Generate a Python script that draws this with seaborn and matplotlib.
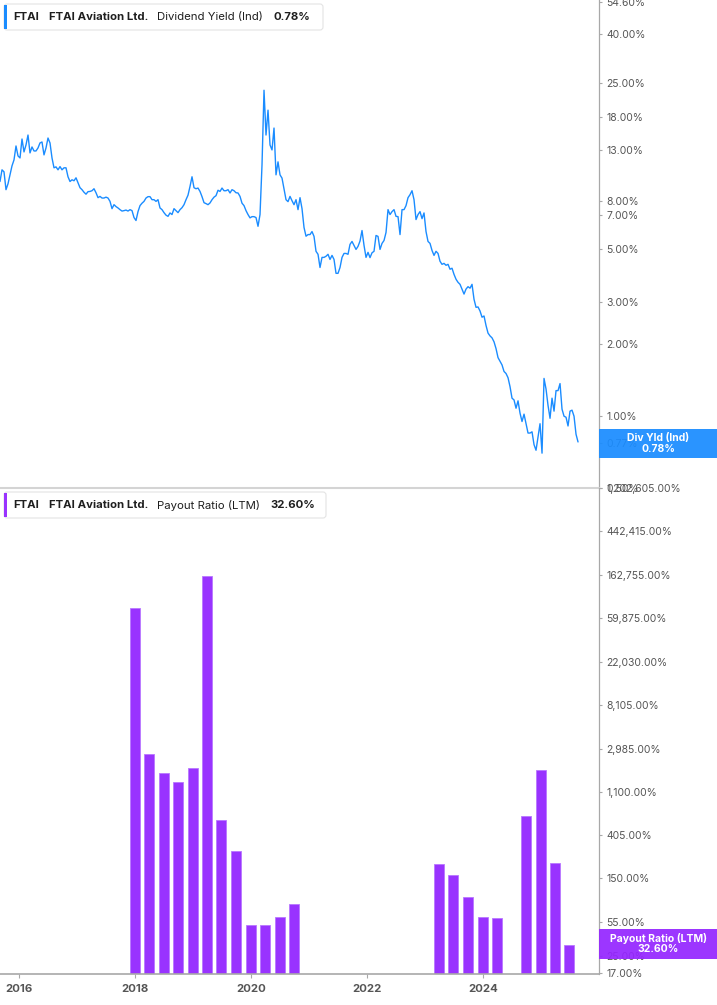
import pandas as pd
import matplotlib
matplotlib.use("Agg")
import matplotlib.pyplot as plt
import matplotlib.dates as mdates
from matplotlib.patches import Rectangle, FancyBboxPatch
from matplotlib.ticker import FixedLocator, FixedFormatter, NullLocator
import seaborn as sns

# Dividend yield (%), evenly spaced between first and last date
YIELD_START = "2015-09-04"
YIELD_END = "2025-08-23"
div_yield = [
    9.63, 10.78, 10.57, 8.90, 9.42, 10.27, 11.20, 11.86, 13.57, 12.33,
    12.09, 14.51, 12.81, 13.70, 15.08, 12.69, 13.44, 12.93, 12.93, 13.31,
    13.97, 14.10, 12.45, 13.31, 14.65, 13.97, 12.09, 10.99, 11.09, 10.78,
    11.12, 10.78, 10.99, 10.99, 10.08, 9.63, 9.79, 9.70, 9.98, 9.51,
    9.07, 8.90, 8.68, 8.52, 8.73, 8.75, 8.81, 8.98, 8.64, 8.24,
    8.34, 8.21, 8.21, 8.28, 8.21, 7.95, 7.41, 7.70, 7.56, 7.46,
    7.34, 7.24, 7.27, 7.31, 7.24, 7.34, 7.27, 6.80, 6.61, 7.20,
    7.63, 7.81, 7.95, 8.21, 8.32, 8.32, 8.08, 8.08, 7.95, 8.08,
    7.46, 7.34, 7.13, 6.96, 6.88, 7.11, 7.00, 7.41, 7.27, 7.13,
    7.34, 7.48, 7.70, 8.08, 8.44, 9.18, 10.08, 9.07, 8.98, 9.04,
    8.75, 8.32, 7.85, 7.78, 7.70, 7.83, 8.08, 8.28, 8.40, 8.85,
    8.75, 9.04, 8.81, 8.81, 8.90, 8.62, 8.90, 8.81, 8.64, 8.62,
    8.34, 7.81, 7.63, 7.27, 7.00, 6.78, 6.86, 6.86, 6.80, 6.25,
    7.00, 11.31, 23.23, 15.08, 19.17, 13.70, 13.06, 16.13, 10.27, 11.64,
    10.27, 9.95, 8.98, 8.08, 7.93, 8.34, 8.00, 7.70, 8.08, 7.34,
    8.24, 7.41, 6.18, 5.68, 5.77, 5.77, 5.94, 5.67, 4.91, 4.77,
    4.20, 4.63, 4.63, 4.68, 4.77, 4.54, 4.72, 4.54, 3.97, 3.97,
    4.20, 4.63, 4.81, 4.81, 4.77, 5.25, 5.40, 5.20, 5.00, 5.15,
    5.42, 6.00, 5.20, 4.63, 4.86, 4.62, 4.84, 4.91, 5.72, 5.67,
    5.00, 5.30, 5.45, 5.89, 7.34, 7.00, 7.20, 7.34, 6.88, 6.86,
    5.77, 7.34, 7.34, 7.63, 8.24, 8.48, 8.81, 8.08, 6.67, 7.00,
    7.20, 6.73, 7.11, 5.94, 5.40, 5.30, 4.95, 4.72, 4.91, 4.81,
    4.46, 4.33, 4.37, 4.29, 4.33, 4.13, 4.17, 3.93, 3.75, 3.64,
    3.57, 3.41, 3.25, 3.41, 3.49, 3.44, 3.57, 3.09, 2.86, 2.87,
    2.76, 2.60, 2.63, 2.40, 2.23, 2.17, 2.13, 2.05, 1.92, 1.76,
    1.70, 1.64, 1.54, 1.51, 1.45, 1.33, 1.19, 1.17, 1.08, 1.16,
    1.03, 0.95, 1.02, 0.93, 0.85, 0.85, 0.86, 0.76, 0.72, 0.82,
    0.93, 0.70, 1.44, 1.30, 1.11, 0.98, 1.19, 1.05, 1.28, 1.28,
    1.37, 1.07, 1.00, 0.99, 0.91, 1.05, 1.06, 1.00, 0.84, 0.78,
]

# Payout ratio LTM (%), quarterly
payout_dates = [
    "2017-12-31", "2018-03-31", "2018-06-30", "2018-09-30", "2018-12-31",
    "2019-03-31", "2019-06-30", "2019-09-30", "2019-12-31", "2020-03-31",
    "2020-06-30", "2020-09-30", "2023-03-31", "2023-06-30", "2023-09-30",
    "2023-12-31", "2024-03-31", "2024-09-30", "2024-12-31", "2025-03-31",
    "2025-06-30",
]
payout_ratio = [
    76700, 2640, 1700, 1390, 1910, 156800, 579, 279, 51.3, 51.3,
    61.7, 83.3, 210, 162, 98.6, 62.1, 60.7, 635, 1806, 215, 32.6,
]

yield_ticks = [0.5, 0.77, 1, 2, 3, 5, 7, 8, 13, 18, 25, 40, 54.6]
payout_ticks = [17, 25, 55, 150, 405, 1100, 2985, 8105, 22030, 59875,
                162755, 442415, 1202605]
year_ticks = ["2016", "2018", "2020", "2022", "2024"]

BLUE = "#1a8cff"
PURPLE = "#9933ff"
PURPLE_BOX = "#9526ff"
GREY = "#555555"
SPINE = "#a8a8a8"

sns.set_theme(style="white")
plt.rcParams["font.family"] = ["Inter", "DejaVu Sans"]

fig = plt.figure(figsize=(7.17, 10.05), dpi=100)
ax1 = fig.add_axes([0, 0.5144, 0.8354, 0.4856])
ax2 = fig.add_axes([0, 0.0306, 0.8354, 0.4838])

df_yield = pd.DataFrame({
    "date": mdates.date2num(pd.date_range(YIELD_START, YIELD_END, periods=len(div_yield))),
    "value": div_yield,
})
sns.lineplot(data=df_yield, x="date", y="value", ax=ax1, color=BLUE, linewidth=1.0)

df_pay = pd.DataFrame({
    "date": mdates.date2num(pd.to_datetime(payout_dates)),
    "value": payout_ratio,
})
sns.barplot(data=df_pay, x="date", y="value", ax=ax2, native_scale=True, width=0.7,
            color=PURPLE, saturation=1, errorbar=None,
            edgecolor="#b877ff", linewidth=0.6)

xlim = mdates.date2num(pd.to_datetime(["2015-09-04", "2026-01-02"]))
for ax, ticks, lims in [(ax1, yield_ticks, (0.5, 55.5)),
                        (ax2, payout_ticks, (16.5, 1202605))]:
    ax.set_yscale("log")
    ax.set_ylim(*lims)
    ax.set_xlim(*xlim)
    ax.set_xlabel("")
    ax.set_ylabel("")
    ax.yaxis.tick_right()
    ax.yaxis.set_major_locator(FixedLocator(ticks))
    ax.yaxis.set_major_formatter(FixedFormatter([f"{t:,.2f}%" for t in ticks]))
    ax.yaxis.set_minor_locator(NullLocator())
    ax.tick_params(axis="y", which="major", right=True, left=False, length=2.5,
                   width=0.8, color=SPINE, labelsize=7.5, labelcolor=GREY, pad=3)
    ax.spines["left"].set_visible(False)
    ax.spines["top"].set_visible(False)
    ax.spines["right"].set_color(SPINE)
    ax.spines["right"].set_linewidth(0.9)
    ax.patch.set_alpha(0)

ax1.spines["bottom"].set_color("#d4d4d4")
ax1.spines["bottom"].set_linewidth(1.5)
ax1.set_xticks([])

ax2.spines["bottom"].set_color(SPINE)
ax2.spines["bottom"].set_linewidth(1.2)
ax2.xaxis.set_major_locator(FixedLocator(mdates.date2num(pd.to_datetime(year_ticks))))
ax2.xaxis.set_major_formatter(FixedFormatter(year_ticks))
ax2.xaxis.set_minor_locator(NullLocator())
ax2.tick_params(axis="x", bottom=True, length=3, width=0.8, color=SPINE,
                labelsize=8.2, labelcolor=GREY, pad=4)
for lbl in ax2.get_xticklabels():
    lbl.set_fontweight("bold")

T = fig.dpi_scale_trans


def px(x, y):
    return x / 100, (1005 - y) / 100


def legend_box(y0, y1, x1, color, parts):
    x0 = 4
    fig.add_artist(FancyBboxPatch(px(x0, y1), (x1 - x0) / 100, (y1 - y0) / 100,
                                  boxstyle="round,pad=0,rounding_size=0.03",
                                  transform=T, facecolor="white",
                                  edgecolor="#e4e4e4", linewidth=0.8))
    fig.add_artist(Rectangle(px(x0, y1 - 1), 0.03, (y1 - y0 - 2) / 100,
                             transform=T, facecolor=color, edgecolor="none"))
    yc = (y0 + y1) / 2
    for x, txt, weight in parts:
        fig.text(*px(x, yc), txt, transform=T, ha="left", va="center",
                 fontsize=8.2, fontweight=weight, color="#1f1f1f")


legend_box(4, 30, 323, BLUE, [
    (13, "FTAI", "bold"),
    (49, "FTAI Aviation Ltd.", "bold"),
    (157, "Dividend Yield (Ind)", "normal"),
    (274, "0.78%", "bold"),
])
legend_box(492, 518, 326, PURPLE, [
    (13, "FTAI", "bold"),
    (49, "FTAI Aviation Ltd.", "bold"),
    (157, "Payout Ratio (LTM)", "normal"),
    (270, "32.60%", "bold"),
])


def value_tag(y0, y1, color, line1, line2):
    fig.add_artist(Rectangle(px(599, y1), 1.18, (y1 - y0) / 100, transform=T,
                             facecolor=color, edgecolor="none", alpha=0.93))
    fig.text(*px(658, y0 + 9), line1, transform=T, ha="center", va="center",
             fontsize=7.5, fontweight="bold", color="white")
    fig.text(*px(658, y0 + 20), line2, transform=T, ha="center", va="center",
             fontsize=7.5, fontweight="bold", color="white")


value_tag(429, 458, BLUE, "Div Yld (Ind)", "0.78%")
value_tag(929, 959, PURPLE_BOX, "Payout Ratio (LTM)", "32.60%")

fig.savefig("out.png", dpi=100)
